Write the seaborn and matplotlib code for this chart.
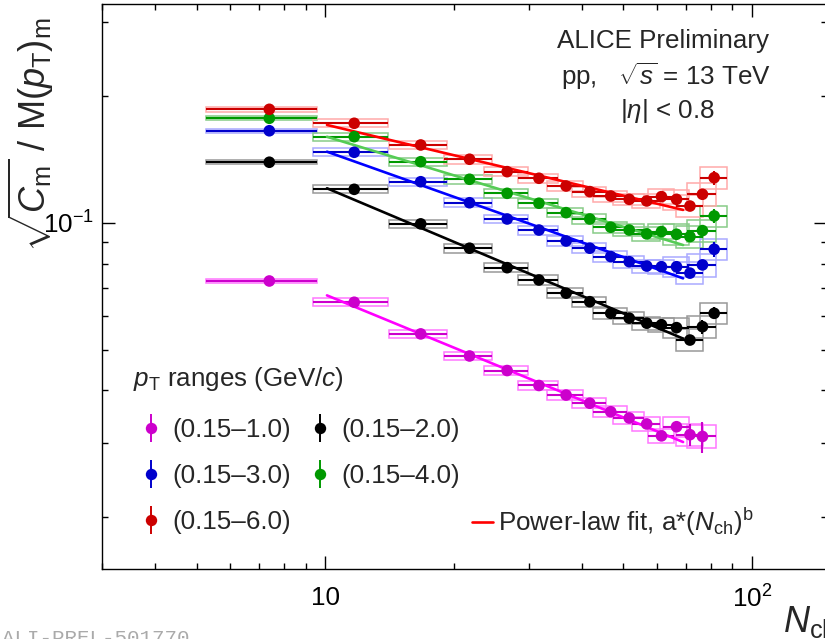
import numpy as np
import pandas as pd
import matplotlib
matplotlib.use("Agg")
import matplotlib.pyplot as plt
import seaborn as sns
from matplotlib.patches import Rectangle
from matplotlib.lines import Line2D
from matplotlib.ticker import FixedLocator, FixedFormatter, LogLocator, NullFormatter

# ---------------- data ----------------
nch = [7.4, 11.7, 16.75, 21.8, 26.7, 31.7, 36.7, 41.7, 46.7, 51.6, 56.7, 61.4, 66.6, 71.6, 76.6, 81.6]
box_dx = [2.15, 2.35, 2.6, 2.8, 3.15, 3.4, 3.6, 3.9, 4.2, 4.4, 4.3, 4.3, 4.6, 5.3, 6.0, 6.0]
sys_rel = [0.012, 0.022, 0.022, 0.024, 0.024, 0.025, 0.026, 0.028, 0.030, 0.032, 0.036, 0.040, 0.055, 0.060, 0.062, 0.058]

labels = ["(0.15–1.0)", "(0.15–2.0)", "(0.15–3.0)", "(0.15–4.0)", "(0.15–6.0)"]

y_10 = [0.0728, 0.0648, 0.0545, 0.0483, 0.0446, 0.0411, 0.0390, 0.0373, 0.0356, 0.0344, 0.0333, 0.0312, 0.0328, 0.0314, 0.0311]
y_20 = [0.1394, 0.1202, 0.0995, 0.0871, 0.0783, 0.0732, 0.0681, 0.0650, 0.0610, 0.0594, 0.0578, 0.0573, 0.0564, 0.0527, 0.0567, 0.0610]
y_30 = [0.1656, 0.1472, 0.1253, 0.1117, 0.1022, 0.0962, 0.0906, 0.0871, 0.0832, 0.0809, 0.0790, 0.0787, 0.0787, 0.0760, 0.0795, 0.0866]
y_40 = [0.1773, 0.1603, 0.1398, 0.1270, 0.1176, 0.1114, 0.1058, 0.1022, 0.0977, 0.0962, 0.0942, 0.0954, 0.0940, 0.0928, 0.0959, 0.1039]
y_60 = [0.1862, 0.1725, 0.1532, 0.1417, 0.1324, 0.1277, 0.1224, 0.1187, 0.1159, 0.1138, 0.1128, 0.1155, 0.1138, 0.1097, 0.1170, 0.1281]

stat_10 = [0.005, 0.005, 0.005, 0.005, 0.006, 0.007, 0.008, 0.009, 0.010, 0.012, 0.014, 0.018, 0.028, 0.060, 0.085]
stat_20 = [0.004, 0.004, 0.004, 0.004, 0.005, 0.005, 0.006, 0.007, 0.008, 0.009, 0.010, 0.012, 0.015, 0.020, 0.037, 0.033]
stat_30 = [0.003, 0.003, 0.003, 0.004, 0.004, 0.005, 0.005, 0.006, 0.007, 0.008, 0.009, 0.010, 0.012, 0.015, 0.025, 0.040]
stat_40 = [0.003, 0.003, 0.003, 0.004, 0.004, 0.005, 0.005, 0.006, 0.007, 0.008, 0.009, 0.010, 0.012, 0.015, 0.022, 0.040]
stat_60 = [0.003, 0.003, 0.003, 0.004, 0.004, 0.005, 0.005, 0.006, 0.007, 0.008, 0.009, 0.010, 0.012, 0.015, 0.022, 0.037]

# power-law fit parameters a*(Nch)^b and fit range
fit_a = [0.1767, 0.3252, 0.3400, 0.3268, 0.2991]
fit_b = [-0.4175, -0.4279, -0.3606, -0.3082, -0.2419]
fit_range = [10.1, 69.0]

x_ticks = [10, 100]
x_ticklabels = ["10", r"$10^{2}$"]
y_ticks = [0.1]
y_ticklabels = [r"$10^{-1}$"]

# ---------------- styling ----------------
mk_colors = ["#cc00cc", "#000000", "#0000cc", "#009900", "#cc0000"]
fit_colors = ["#ff00ff", "#000000", "#0000ff", "#55cc55", "#ff0000"]
box_colors = ["#ff77ff", "#999999", "#aaaaff", "#88cc88", "#ffaaaa"]

sns.set_theme(style="ticks")
plt.rcParams["font.family"] = ["Liberation Sans", "DejaVu Sans"]
plt.rcParams["mathtext.fontset"] = "custom"
plt.rcParams["mathtext.rm"] = "Liberation Sans"
plt.rcParams["mathtext.it"] = "Liberation Sans:italic"
plt.rcParams["mathtext.bf"] = "Liberation Sans:bold"
plt.rcParams["axes.linewidth"] = 1.0

FS = 18.7      # ~26 px
FS_T = 26      # axis titles

fig = plt.figure(figsize=(8.25, 6.39), dpi=100)
ax = fig.add_axes([102 / 825, (639 - 569) / 639, 725 / 825, 565 / 639])
ax.set_xscale("log")
ax.set_yscale("log")

series_y = [y_10, y_20, y_30, y_40, y_60]
series_stat = [stat_10, stat_20, stat_30, stat_40, stat_60]

rows = []
for lab, ys in zip(labels, series_y):
    for xv, yv in zip(nch, ys):
        rows.append({"nch": xv, "val": yv, "range": lab})
df = pd.DataFrame(rows)

# systematic boxes + statistical bars
for i, (ys, st) in enumerate(zip(series_y, series_stat)):
    n = len(ys)
    xs = np.array(nch[:n])
    yv = np.array(ys)
    dx = np.array(box_dx[:n])
    sr = np.array(sys_rel[:n])
    for xv, yy, d, s in zip(xs, yv, dx, sr):
        ax.add_patch(Rectangle((xv - d, yy * (1 - s)), 2 * d, 2 * yy * s,
                               fill=False, edgecolor=box_colors[i], lw=1.1, zorder=1))
    ax.errorbar(xs, yv, xerr=dx, yerr=yv * np.array(st), fmt="none",
                ecolor=mk_colors[i], elinewidth=1.5, capsize=0, zorder=2)

# power-law fits
fit_rows = []
xg = np.geomspace(fit_range[0], fit_range[1], 60)
for lab, a, b in zip(labels, fit_a, fit_b):
    for xv in xg:
        fit_rows.append({"nch": xv, "val": a * xv ** b, "range": lab})
fit_df = pd.DataFrame(fit_rows)
sns.lineplot(data=fit_df, x="nch", y="val", hue="range", hue_order=labels,
             palette=dict(zip(labels, fit_colors)), linewidth=1.9, legend=False,
             ax=ax, zorder=3)

sns.scatterplot(data=df, x="nch", y="val", hue="range", hue_order=labels,
                palette=dict(zip(labels, mk_colors)), s=70, linewidth=0,
                legend=False, ax=ax, zorder=4)

ax.set_xlim(3, 150)
ax.set_ylim(0.01506, 0.3313)
ax.set_xlabel("")
ax.set_ylabel("")

ax.xaxis.set_major_locator(FixedLocator(x_ticks))
ax.xaxis.set_major_formatter(FixedFormatter(x_ticklabels))
ax.xaxis.set_minor_locator(LogLocator(base=10, subs=np.arange(2, 10)))
ax.xaxis.set_minor_formatter(NullFormatter())
ax.yaxis.set_major_locator(FixedLocator(y_ticks))
ax.yaxis.set_major_formatter(FixedFormatter(y_ticklabels))
ax.yaxis.set_minor_locator(LogLocator(base=10, subs=np.arange(2, 10)))
ax.yaxis.set_minor_formatter(NullFormatter())
ax.tick_params(which="both", direction="in", top=True, right=True, width=1.0, colors="black")
ax.tick_params(which="major", length=9.5)
ax.tick_params(which="minor", length=4.5)
ax.tick_params(axis="x", which="major", labelsize=FS, pad=12)
ax.tick_params(axis="y", which="major", labelsize=FS, pad=6)
for sp in ax.spines.values():
    sp.set_color("black")

# axis titles (clipped by figure edges like the reference)
fig.text(31 / 825, 1 - 252 / 639, r"$\sqrt{C_{\rm m}}$ / M($p_{\rm T}$)$_{\rm m}$",
         rotation=90, ha="center", va="bottom", fontsize=FS_T)
fig.text(783 / 825, 1 - 632 / 639, r"$N_{\rm ch}$", ha="left", va="baseline", fontsize=FS_T)

# header text
fig.text(663 / 825, 1 - 48.3 / 639, "ALICE Preliminary", ha="center", va="baseline", fontsize=FS)
fig.text(666 / 825, 1 - 85 / 639, r"pp,   $\sqrt{s}$ = 13 TeV", ha="center", va="baseline", fontsize=FS)
fig.text(667 / 825, 1 - 118.3 / 639, r"|$\eta$| < 0.8", ha="center", va="baseline", fontsize=FS)

# legend
fig.text(133 / 825, 1 - 386 / 639, r"$p_{\rm T}$ ranges (GeV/$c$)", ha="left", va="baseline", fontsize=FS)
handles = []
for c in mk_colors:
    bar = Line2D([], [], marker="|", markersize=20, markeredgewidth=1.4, color=c, linestyle="None")
    dot = Line2D([], [], marker="o", markersize=8.2, color=c, markeredgewidth=0, linestyle="None")
    handles.append((bar, dot))
order = [0, 2, 4, 1, 3]
leg = ax.legend([handles[i] for i in order], [labels[i] for i in order], ncol=2,
                loc="upper left", bbox_to_anchor=(140.5 / 825, 1 - 418 / 639),
                bbox_transform=fig.transFigure, frameon=False, fontsize=FS,
                handlelength=0.8, handletextpad=0.44, columnspacing=0.69,
                labelspacing=0.84, borderpad=0, borderaxespad=0)
ax.add_artist(leg)
fit_handle = Line2D([], [], color="#ff0000", lw=1.9)
ax.legend([fit_handle], [r"Power-law fit, a*($N_{\rm ch}$)$^{\rm b}$"],
          loc="upper left", bbox_to_anchor=(472 / 825, 1 - 506 / 639),
          bbox_transform=fig.transFigure, frameon=False, fontsize=FS,
          handlelength=0.81, handletextpad=0.19, borderpad=0, borderaxespad=0)

# preliminary id watermark (cut at bottom edge)
fig.text(2 / 825, 1 - 629 / 639, "ALI-PREL-501770", ha="left", va="top",
         fontsize=15, color="#aaaaaa", family="Liberation Mono")

fig.savefig("out.png", dpi=100)
